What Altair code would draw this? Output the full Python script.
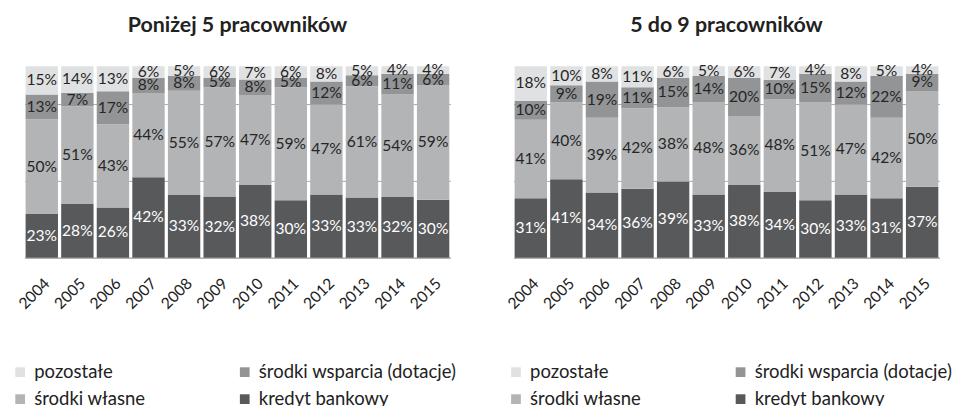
import altair as alt
import pandas as pd

years = [str(y) for y in range(2004, 2016)]
series = ["pozostałe", "środki wsparcia (dotacje)", "środki własne", "kredyt bankowy"]
stack_order = ["kredyt bankowy", "środki własne", "środki wsparcia (dotacje)", "pozostałe"]
colors = ["#e0e1e2", "#939496", "#b3b4b6", "#58595b"]

# Poniżej 5 pracowników
a_kredyt = [23, 28, 26, 42, 33, 32, 38, 30, 33, 33, 32, 30]
a_wlasne = [50, 51, 43, 44, 55, 57, 47, 59, 47, 61, 54, 59]
a_wsparcie = [13, 7, 17, 8, 8, 5, 8, 5, 12, 6, 11, 6]
a_pozostale = [15, 14, 13, 6, 5, 6, 7, 6, 8, 5, 4, 4]

# 5 do 9 pracowników
b_kredyt = [31, 41, 34, 36, 39, 33, 38, 34, 30, 33, 31, 37]
b_wlasne = [41, 40, 39, 42, 38, 48, 36, 48, 51, 47, 42, 50]
b_wsparcie = [10, 9, 19, 11, 15, 14, 20, 10, 15, 12, 22, 9]
b_pozostale = [18, 10, 8, 11, 6, 5, 6, 7, 4, 8, 5, 4]

FONT = "Lato"


def build(kredyt, wlasne, wsparcie, pozostale):
    d = {"kredyt bankowy": kredyt, "środki własne": wlasne,
         "środki wsparcia (dotacje)": wsparcie, "pozostałe": pozostale}
    rows = []
    for i, yr in enumerate(years):
        vals = [d[s][i] for s in stack_order]
        total = float(sum(vals))
        cum = 0.0
        for s, v in zip(stack_order, vals):
            y0 = cum / total
            y1 = (cum + v) / total
            cum += v
            rows.append(dict(year=yr, series=s, value=v, y0=y0, y1=y1,
                             mid=(y0 + y1) / 2, label=f"{v}%"))
    return pd.DataFrame(rows)


def panel(df, title, legend_x):
    base = alt.Chart(df)
    xenc = alt.X("year:N", sort=years,
                 scale=alt.Scale(paddingInner=0.09, paddingOuter=0.03),
                 axis=alt.Axis(title=None, labelAngle=-45, ticks=False,
                               domainColor="#a6a6a6", labelFont=FONT,
                               labelFontSize=16, labelColor="#222222",
                               labelPadding=18))
    bars = base.mark_bar().encode(
        x=xenc,
        y=alt.Y("y0:Q", scale=alt.Scale(domain=[0, 1], nice=False),
                axis=alt.Axis(title=None, labels=False, ticks=False, domain=False,
                              grid=True, values=[0, 0.2, 0.4, 0.6, 0.8, 1.0],
                              gridColor="#a6a6a6", gridWidth=1)),
        y2="y1:Q",
        color=alt.Color("series:N", scale=alt.Scale(domain=series, range=colors),
                        legend=alt.Legend(title=None, orient="none", legendX=legend_x,
                                          legendY=305, columns=2, direction="horizontal",
                                          columnPadding=92, rowPadding=8,
                                          symbolType="square", symbolSize=100,
                                          symbolStrokeWidth=0, labelOffset=5,
                                          labelLimit=400,
                                          labelFont=FONT, labelFontSize=19,
                                          labelColor="#222222")),
    )
    text = base.mark_text(font=FONT, fontSize=16).encode(
        x=alt.X("year:N", sort=years),
        y="mid:Q",
        text="label:N",
        color=alt.condition(alt.datum.series == "kredyt bankowy",
                            alt.value("white"), alt.value("#262626")),
    )
    return alt.layer(bars, text).properties(
        width=438, height=197,
        title=alt.TitleParams(title, font=FONT, fontSize=22, fontWeight="bold",
                              color="#222222", offset=26),
    )


left = panel(build(a_kredyt, a_wlasne, a_wsparcie, a_pozostale), "Poniżej 5 pracowników", -14)
right = panel(build(b_kredyt, b_wlasne, b_wsparcie, b_pozostale), "5 do 9 pracowników", -7)

chart = alt.hconcat(left, right, spacing=48).resolve_scale(color="independent").properties(
    padding={"left": 3, "top": 0, "right": 0, "bottom": 0}
).configure_view(stroke=None)

chart.save("out.html", embed_options={"renderer": "svg", "actions": False})
